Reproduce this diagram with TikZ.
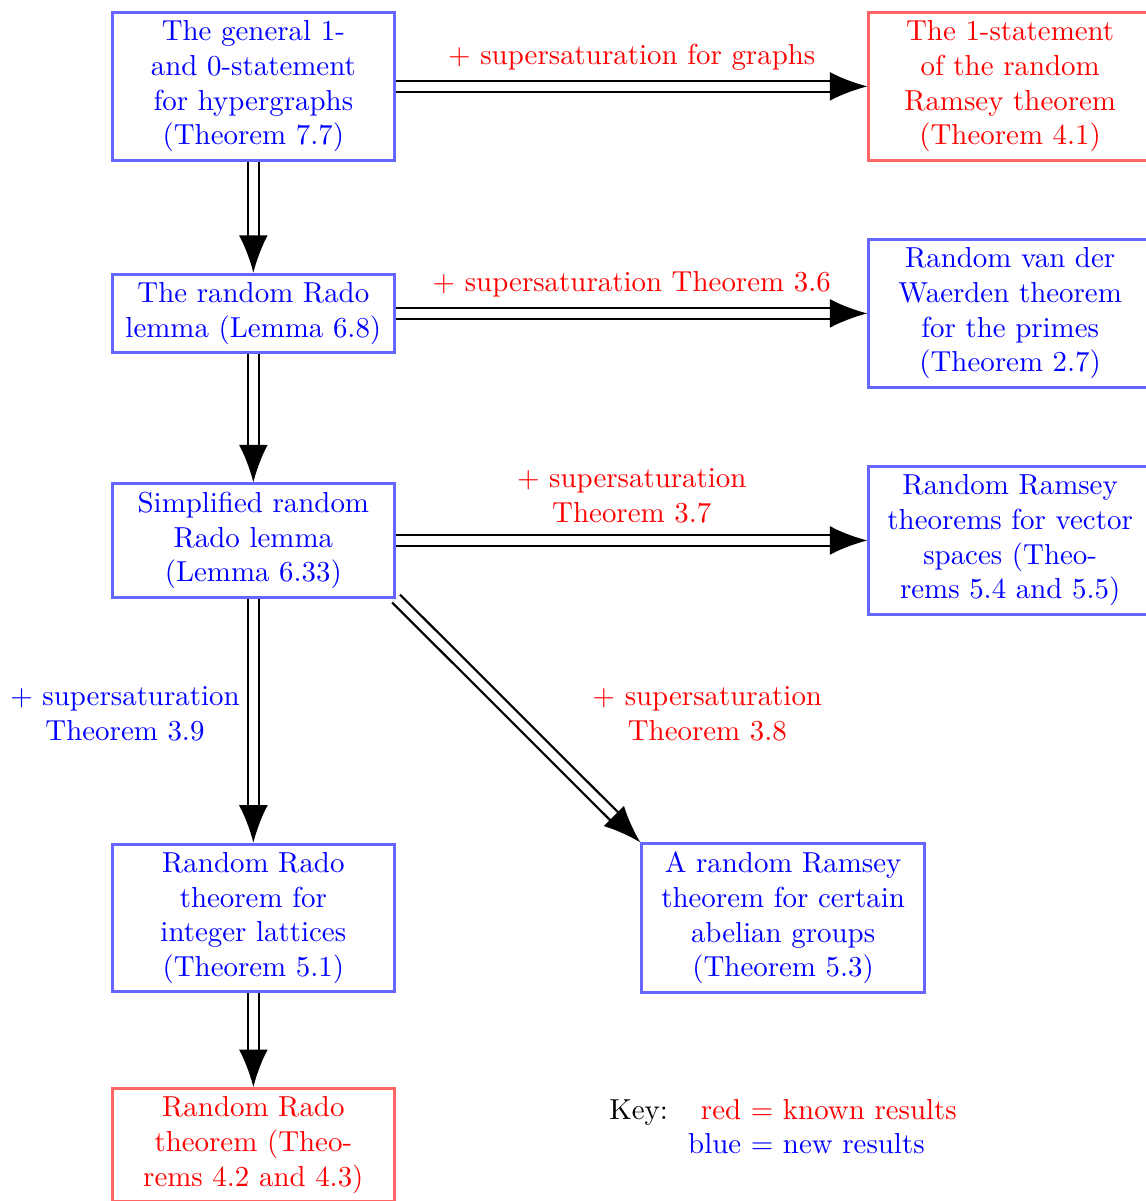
\documentclass[tikz,border=0pt]{standalone}
\usetikzlibrary{arrows.meta, positioning}

\begin{document}
\begin{tikzpicture}[
    newres/.style={draw=blue!60, line width=1pt, text=blue, text width=3.2cm, align=center, inner ysep=2.8pt},
    knownres/.style={draw=red!60, line width=1pt, text=red, text width=3.2cm, align=center, inner ysep=2.8pt},
    implies/.style={double, double distance=3pt, thick, -{Latex[length=13pt, width=10pt]}}
    ]
    \useasboundingbox (0,0) rectangle (13.92,-14.60);
    % left column
    \node [newres] (gen) at (3.08,-1.05) {The general 1-\\and 0-statement\\for hypergraphs\\(Theorem 7.7)};
    \node [newres] (rado) at (3.08,-3.81) {The random Rado\\lemma (Lemma 6.8)};
    \node [newres] (simp) at (3.08,-6.57) {Simplified random\\Rado lemma\\(Lemma 6.33)};
    \node [newres] (lat) at (3.08,-11.16) {Random Rado\\theorem for\\integer lattices\\(Theorem 5.1)};
    \node [knownres] (rrt) at (3.08,-13.92) {Random Rado\\theorem (Theo-\\rems 4.2 and 4.3)};
    % right column
    \node [knownres] (one) at (12.28,-1.05) {The 1-statement\\of the random\\Ramsey theorem\\(Theorem 4.1)};
    \node [newres] (vdw) at (12.28,-3.81) {Random van der\\Waerden theorem\\for the primes\\(Theorem 2.7)};
    \node [newres] (vec) at (12.28,-6.57) {Random Ramsey\\theorems for vector\\spaces (Theo-\\rems 5.4 and 5.5)};
    \node [newres] (abel) at (9.52,-11.16) {A random Ramsey\\theorem for certain\\abelian groups\\(Theorem 5.3)};
    % implications
    \draw [implies] (gen) -- node [above=1.8pt, red] {+ supersaturation for graphs} (one);
    \draw [implies] (rado) -- node [above=1.8pt, red] {+ supersaturation Theorem 3.6} (vdw);
    \draw [implies] (simp) -- node [above=2.3pt, red, align=center] {+ supersaturation\\Theorem 3.7} (vec);
    \draw [implies] (gen) -- (rado);
    \draw [implies] (rado) -- (simp);
    \draw [implies] (simp) -- node [left=1pt, yshift=2.4pt, blue, align=center] {+ supersaturation\\Theorem 3.9} (lat);
    \draw [implies] (simp.south east) -- node [right=22pt, yshift=2.4pt, red, align=center] {+ supersaturation\\Theorem 3.8} (abel.north west);
    \draw [implies] (lat) -- (rrt);
    % key
    \node [anchor=west, inner sep=0pt] (key) at (7.40,-13.73) {\begin{tabular}{@{}l@{\hspace{7pt}}r@{ }l@{}}
        Key: & \textcolor{red}{red} & \textcolor{red}{= known results}\\
        & \textcolor{blue}{blue} & \textcolor{blue}{= new results}
    \end{tabular}};
\end{tikzpicture}
\end{document}
